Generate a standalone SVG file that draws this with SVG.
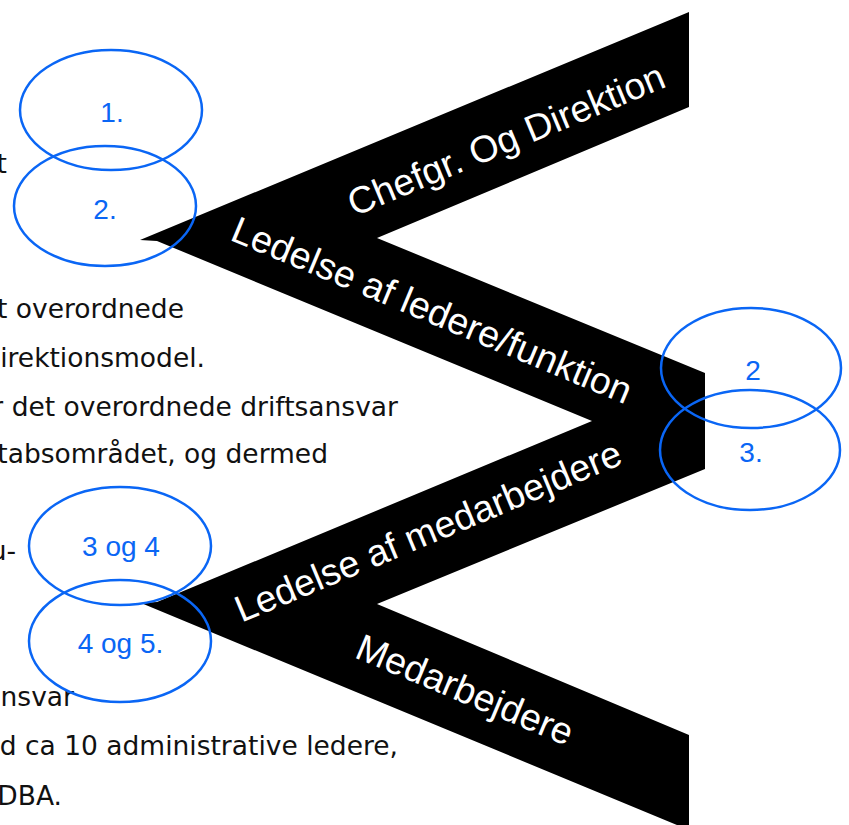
<svg xmlns="http://www.w3.org/2000/svg" width="849" height="825" viewBox="0 0 849 825">
  <style>
    .body { font-family: "DejaVu Sans", Verdana, sans-serif; font-size: 26.5px; fill: #111111; text-anchor: end; }
    .band { font-family: "Liberation Sans", Arial, sans-serif; font-size: 37.5px; fill: #ffffff; text-anchor: middle; }
    .ring { fill: none; stroke: #0a66f5; stroke-width: 2.5; }
    .num { font-family: "Liberation Sans", Arial, sans-serif; font-size: 28px; fill: #0a66f5; text-anchor: middle; }
  </style>
  <rect width="849" height="825" fill="#ffffff"/>
  <g id="body-text">
    <text class="body" x="7" y="173">t</text>
    <text class="body" x="184" y="318">t overordnede</text>
    <text class="body" x="205" y="367">irektionsmodel.</text>
    <text class="body" x="398" y="416">r det overordnede driftsansvar</text>
    <text class="body" x="328" y="463">tabsområdet, og dermed</text>
    <text class="body" x="16" y="560">u-</text>
    <text class="body" x="74" y="706">ansvar</text>
    <text class="body" x="398" y="755">d ca 10 administrative ledere,</text>
    <text class="body" x="62" y="805">DBA.</text>
  </g>
  <g id="zigzag">
    <polygon points="689,12 689,107 377,238 705,373 705,469 377,604 689,735 689,830 141,603 157,602 592,421 157,241 140,240" fill="#000000"/>
    <text class="band" x="511" y="151.5" transform="rotate(-22.6 511 151.5)">Chefgr. Og Direktion</text>
    <text class="band" x="427" y="322" transform="rotate(22.6 427 322)">Ledelse af ledere/funktion</text>
    <text class="band" x="433" y="543" transform="rotate(-22.6 433 543)">Ledelse af medarbejdere</text>
    <text class="band" x="460" y="701.5" transform="rotate(22.6 460 701.5)">Medarbejdere</text>
  </g>
  <g id="connectors"/>
  <g id="ring-1">
    <ellipse class="ring" cx="111" cy="110" rx="91" ry="60"/>
    <text class="num" x="112" y="122">1.</text>
  </g>
  <g id="ring-2">
    <ellipse class="ring" cx="105" cy="206" rx="91" ry="60"/>
    <text class="num" x="105" y="219">2.</text>
  </g>
  <g id="ring-2b">
    <ellipse class="ring" cx="751" cy="368" rx="90" ry="60"/>
    <text class="num" x="753" y="380">2</text>
  </g>
  <g id="ring-3">
    <ellipse class="ring" cx="750" cy="450" rx="90" ry="60"/>
    <text class="num" x="751" y="462">3.</text>
  </g>
  <g id="ring-3-4">
    <ellipse class="ring" cx="120" cy="546" rx="91" ry="59"/>
    <text class="num" x="121" y="556">3 og 4</text>
  </g>
  <g id="ring-4-5">
    <ellipse class="ring" cx="120" cy="641" rx="91" ry="61"/>
    <text class="num" x="120.5" y="653">4 og 5.</text>
  </g>
</svg>
